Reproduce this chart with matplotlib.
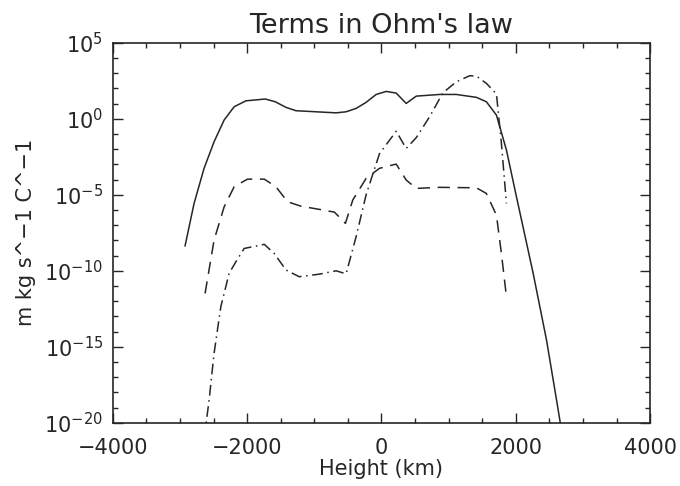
import numpy as np
import matplotlib
matplotlib.use("Agg")
from matplotlib import pyplot as plt
from matplotlib.ticker import FixedLocator, MultipleLocator, FuncFormatter

# heights (km) and log10 of each term
x_solid = [-2925, -2791, -2642, -2493, -2343, -2194, -2020, -1731, -1582, -1422,
           -1273, -975, -676, -527, -378, -229, -79, 70, 219, 368, 518, 866,
           1114, 1413, 1562, 1712, 1861, 2010, 2259, 2458, 2607, 2700]
log_solid = [-8.36, -5.57, -3.26, -1.51, -0.08, 0.79, 1.18, 1.30, 1.12, 0.75,
             0.53, 0.46, 0.39, 0.46, 0.68, 1.08, 1.60, 1.80, 1.69, 1.01, 1.49, 1.60,
             1.60, 1.41, 1.12, 0.24, -2.06, -5.13, -10.17, -14.56, -18.5, -21.0]

x_dash = [-2627, -2493, -2343, -2194, -1995, -1746, -1572, -1398, -1199, -925,
          -701, -537, -428, -229, -30, 219, 368, 518, 866, 1413, 1562, 1712,
          1786, 1861]
log_dash = [-11.49, -7.98, -5.79, -4.47, -3.97, -3.97, -4.47, -5.46, -5.75, -5.96,
            -6.14, -6.88, -5.35, -3.92, -3.26, -2.98, -4.03, -4.58, -4.51, -4.54,
            -4.91, -6.34, -8.86, -11.71]

x_dashdot = [-2640, -2567, -2493, -2393, -2269, -2169, -2045, -1746, -1597, -1422,
             -1224, -925, -676, -527, -378, -229, -30, 219, 368, 518, 716, 915,
             1114, 1313, 1413, 1562, 1712, 1786, 1861]
log_dashdot = [-21.0, -18.5, -15.43, -12.37, -10.17, -9.41, -8.53, -8.26, -8.86, -9.95,
               -10.39, -10.22, -10.0, -10.2, -7.76, -5.0, -2.3, -0.82, -1.95, -1.24,
               0.13, 1.71, 2.43, 2.83, 2.81, 2.33, 1.63, -1.62, -5.57]

ink = '#262626'

fig = plt.figure(figsize=(6.8, 4.86), dpi=100)
ax = fig.add_axes([0.166, 0.130, 0.790, 0.782])

ax.plot(x_solid, 10.0 ** np.array(log_solid), color=ink, lw=1.1)
ax.plot(x_dash, 10.0 ** np.array(log_dash), color=ink, lw=1.1, linestyle=(0, (8, 5)))
ax.plot(x_dashdot, 10.0 ** np.array(log_dashdot), color=ink, lw=1.1,
        linestyle=(0, (7, 3, 1, 3)))

ax.set_yscale('log')
ax.set_xlim(-4000, 4000)
ax.set_ylim(1e-20, 1e5)

ax.xaxis.set_major_locator(FixedLocator([-4000, -2000, 0, 2000, 4000]))
ax.xaxis.set_minor_locator(MultipleLocator(500))
ax.xaxis.set_major_formatter(FuncFormatter(lambda v, p: f'{v:.0f}'.replace('-', '\u2212')))
ax.yaxis.set_major_locator(FixedLocator([10.0 ** k for k in range(-20, 6, 5)]))
ax.yaxis.set_minor_locator(FixedLocator([10.0 ** k for k in range(-20, 6)]))
ax.yaxis.set_major_formatter(FuncFormatter(lambda v, p: r'$10^{%d}$' % round(np.log10(v))))
ax.yaxis.set_minor_formatter(FuncFormatter(lambda v, p: ''))

ax.tick_params(which='both', direction='in', top=True, right=True, colors=ink,
               labelsize=15, width=1)
ax.tick_params(axis='x', which='major', length=7, pad=11)
ax.tick_params(axis='y', which='major', length=7, pad=7)
ax.tick_params(which='minor', length=3.5)
for s in ax.spines.values():
    s.set_linewidth(1.2)
    s.set_color(ink)

ax.set_title("Terms in Ohm's law", fontsize=19.5, color=ink, pad=7)
ax.set_xlabel('Height (km)', fontsize=15, color=ink, labelpad=1)
ax.set_ylabel('m kg s^\u22121 C^\u22121', fontsize=15, color=ink, labelpad=6)

fig.savefig('out.png', dpi=100)
